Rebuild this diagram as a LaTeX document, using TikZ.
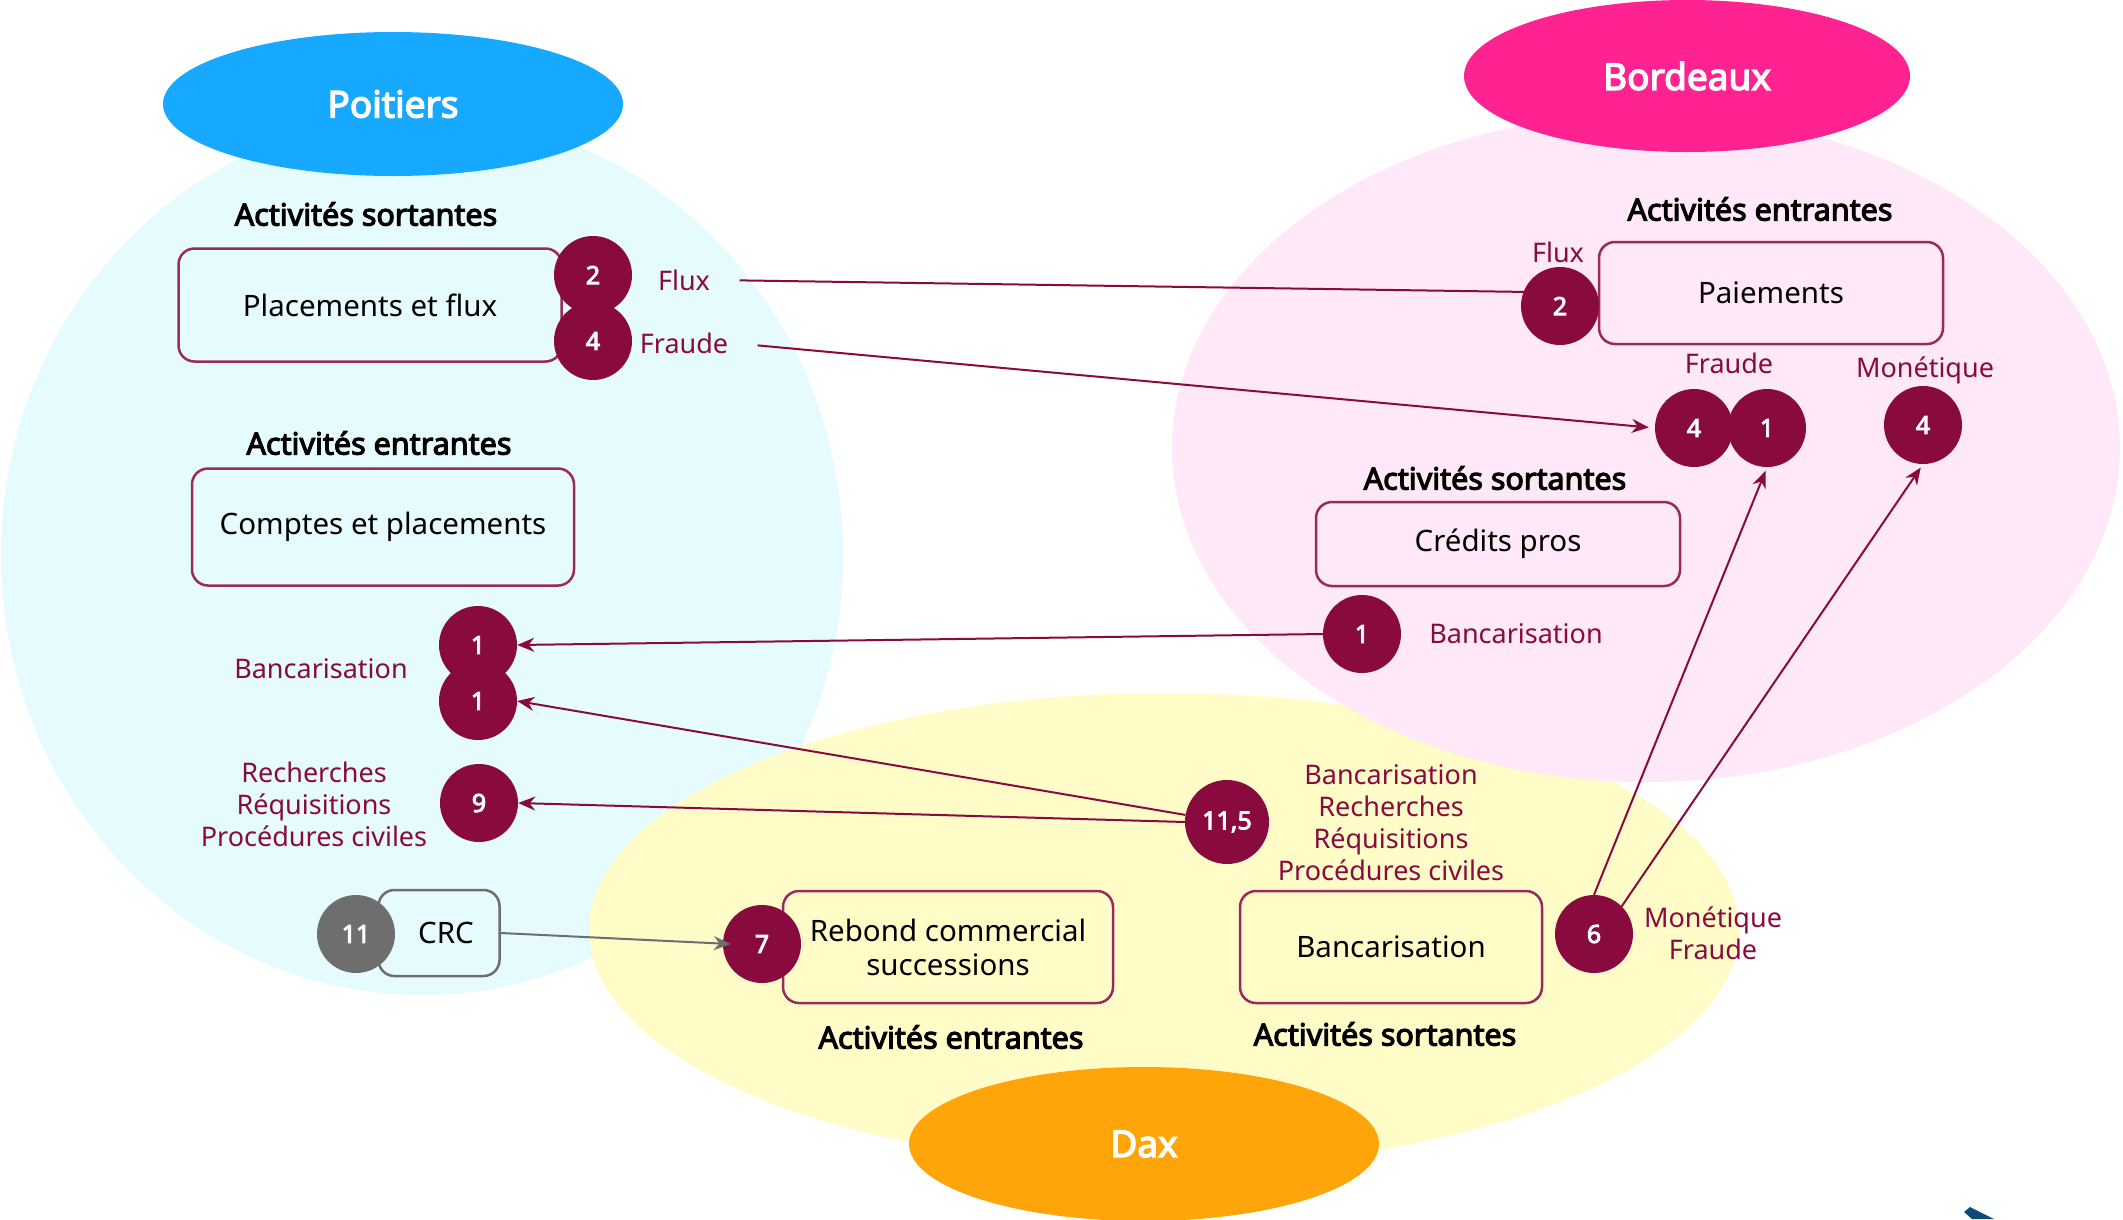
\documentclass[tikz,border=0pt]{standalone}
\usepackage{fontspec}
\setmainfont{Noto Sans}[BoldFont={Noto Sans}, BoldFeatures={FakeBold=3.6}]
\usetikzlibrary{arrows.meta,shapes.geometric}

\definecolor{wine}{HTML}{880A3E}
\definecolor{winebox}{HTML}{9A2A5C}
\definecolor{cyanbg}{HTML}{E6FBFD}
\definecolor{pinkbg}{HTML}{FFE8F8}
\definecolor{yellowbg}{HTML}{FFFCC8}
\definecolor{poitblue}{HTML}{17A8FF}
\definecolor{bordpink}{HTML}{FF2291}
\definecolor{daxorange}{HTML}{FFA50A}
\definecolor{crcgray}{HTML}{6E6E6E}
\definecolor{navy}{HTML}{0B4A7C}

\tikzset{
  head/.style={font=\fontsize{30.5}{36}\selectfont\bfseries, text=black},
  actbox/.style={draw=winebox, line width=2.5pt, rounded corners=16pt,
    align=center, font=\fontsize{29.5}{34}\selectfont, inner sep=0pt},
  badge/.style={circle, fill=wine, text=white, minimum size=78pt, inner sep=0pt,
    font=\fontsize{25}{28}\selectfont\bfseries},
  lbl/.style={text=wine, align=center, font=\fontsize{27}{32}\selectfont},
  city/.style={ellipse, text=white, inner sep=0pt,
    font=\fontsize{37}{40}\selectfont\bfseries},
  link/.style={draw=wine, line width=2pt, -{Stealth[length=17pt,width=14pt]}},
  graylink/.style={draw=crcgray, line width=2pt, -{Stealth[length=17pt,width=14pt]}}
}

\begin{document}
\begin{tikzpicture}[x=1pt,y=-1pt]
\useasboundingbox (0,0) rectangle (2123,1219);
\fill[white] (0,0) rectangle (2123,1219);

% site areas
\fill[cyanbg] (422,555) ellipse [x radius=421, y radius=440];
\fill[yellowbg] (1164,930) ellipse [x radius=575, y radius=237];
\fill[pinkbg] (1646,448) ellipse [x radius=474, y radius=334];

% site names
\node[city, fill=poitblue, minimum width=460pt, minimum height=144pt] (tPoit) at (393,104) {Poitiers};
\node[city, fill=bordpink, minimum width=446pt, minimum height=152pt] (tBord) at (1687,76) {Bordeaux};
\node[city, fill=daxorange, minimum width=470pt, minimum height=154pt] (tDax) at (1144,1144) {Dax};

% Poitiers
\node[head] (hPs) at (366,214) {Activités sortantes};
\node[actbox, fill=cyanbg, minimum width=383pt, minimum height=113pt] (plac) at (370,305) {Placements et flux};
\node[head] (hPe) at (379,443) {Activités entrantes};
\node[actbox, fill=cyanbg, minimum width=382pt, minimum height=117pt] (compt) at (383,527) {Comptes et placements};
\node[actbox, draw=crcgray, fill=cyanbg, minimum width=121pt, minimum height=86pt] (crc) at (439,933) {\hspace*{14pt}CRC};

\node[badge] (bP2) at (593,275) {2};
\node[badge] (bP4) at (593,341) {4};
\node[lbl] (lFluxP) at (684,280) {Flux};
\node[lbl] (lFraudeP) at (684,343) {Fraude};

\node[badge] (bPa) at (478,645) {1};
\node[badge] (bPb) at (478,701) {1};
\node[lbl] (lBancP) at (321,669) {Bancarisation};
\node[badge] (bP9) at (479,803) {9};
\node[lbl] (lRechP) at (314,804) {Recherches\\Réquisitions\\Procédures civiles};
\node[badge, fill=crcgray] (bP11) at (356,934) {11};

% Bordeaux
\node[head] (hBe) at (1760,209) {Activités entrantes};
\node[actbox, fill=pinkbg, minimum width=344pt, minimum height=102pt] (pay) at (1771,293) {Paiements};
\node[lbl] (lFluxB) at (1558,252) {Flux};
\node[badge] (bB2) at (1560,306) {2};
\node[lbl] (lFraudeB) at (1729,363) {Fraude};
\node[lbl] (lMonB) at (1925,370) {Monétique};
\node[badge] (bB4) at (1694,428) {4};
\node[badge] (bB1) at (1767,428) {1};
\node[badge] (bBm) at (1923,425) {4};
\node[head] (hBs) at (1495,478) {Activités sortantes};
\node[actbox, fill=pinkbg, minimum width=364pt, minimum height=84pt] (cred) at (1498,544) {Crédits pros};
\node[badge] (bBb) at (1362,634) {1};
\node[lbl] (lBancB) at (1516,634) {Bancarisation};

% Dax
\node[badge, minimum size=84pt] (bD115) at (1227,822) {11,5};
\node[lbl] (lDaxOut) at (1391,823) {Bancarisation\\Recherches\\Réquisitions\\Procédures civiles};
\node[actbox, fill=yellowbg, minimum width=330pt, minimum height=112pt] (reb) at (948,947) {Rebond commercial\\successions};
\node[badge] (bD7) at (762,944) {7};
\node[actbox, fill=yellowbg, minimum width=302pt, minimum height=112pt] (banc) at (1391,947) {Bancarisation};
\node[badge] (bD6) at (1594,934) {6};
\node[lbl] (lMonD) at (1713,933) {Monétique\\Fraude};
\node[head] (hDe) at (951,1037) {Activités entrantes};
\node[head] (hDs) at (1385,1034) {Activités sortantes};

% flows
\draw[link, shorten <=26pt] (lFluxP.east) -- (pay.west);
\draw[link, shorten <=26pt, shorten >=6pt] (lFraudeP.east) -- (bB4.west);
\draw[link] (bBb.west) -- (bPa.east);
\draw[link] (bD115) -- (bPb.east);
\draw[link] (bD115.west) -- (bP9.east);
\draw[graylink] (crc.east) -- ([xshift=8pt]bD7.west);
\draw[link, shorten >=4pt] (bD6.north) -- (bB1.south);
\draw[link, shorten >=4pt] (bD6.north east) -- (bBm.south);

% corner mark
\fill[navy] (1964,1212) -- (1970,1207) -- (1994,1219) -- (1972,1219) -- cycle;
\end{tikzpicture}
\end{document}
